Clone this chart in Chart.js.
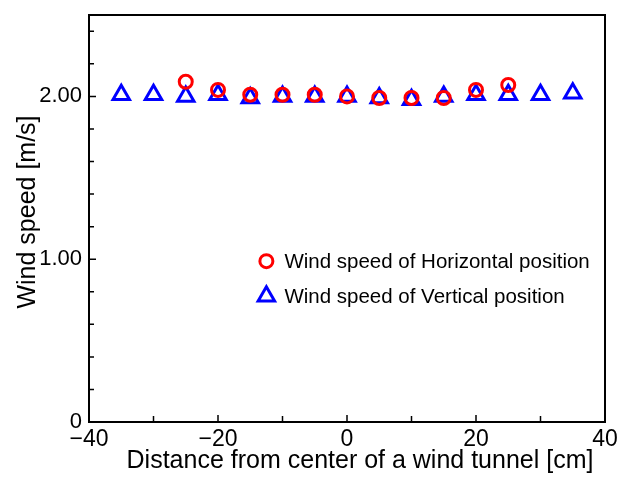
<!DOCTYPE html>
<html>
<head>
<meta charset="utf-8">
<script src="https://cdn.jsdelivr.net/npm/chart.js@4/dist/chart.umd.min.js"></script>
<style>
  html, body { margin: 0; padding: 0; background: #fff; }
  #wrap { width: 622px; height: 478px; }
</style>
</head>
<body>
<div id="wrap"><canvas id="c"></canvas></div>
<script>
// positions along the tunnel [cm]
const horizX = [-25, -20, -15, -10, -5, 0, 5, 10, 15, 20, 25];
const horizSpeed = [2.09, 2.04, 2.01, 2.01, 2.01, 2.00, 1.99, 1.99, 1.99, 2.04, 2.07];
const vertX = [-35, -30, -25, -20, -15, -10, -5, 0, 5, 10, 15, 20, 25, 30, 35];
const vertSpeed = [2.01, 2.01, 2.00, 2.01, 1.99, 2.00, 2.00, 2.00, 1.99, 1.98, 2.00, 2.01, 2.01, 2.01, 2.02];

const xLabelTicks = [-40, -20, 0, 20, 40];
const xSmallTicks = [-30, -10, 10, 30];
const yLabelTicks = [0, 1, 2];
const ySmallTicks = [0.2, 0.4, 0.6, 0.8, 1.2, 1.4, 1.6, 1.8, 2.2, 2.4];

const seriesNames = ["Wind speed of Horizontal position", "Wind speed of Vertical position"];
const xTitle = "Distance from center of a wind tunnel [cm]";
const yTitle = "Wind speed [m/s]";

const FONT = "'Liberation Sans', Arial, sans-serif";

function pts(xs, ys) {
    return xs.map((x, i) => ({ x: x, y: ys[i] }));
}

// box, inward ticks, axis titles and the legend inside the plot
const framePlugin = {
    id: "frame",
    afterDraw(chart) {
        const ctx = chart.ctx;
        const a = chart.chartArea;
        const xs = chart.scales.x, ys = chart.scales.y;
        ctx.save();
        ctx.strokeStyle = "#000";
        ctx.lineWidth = 2;
        ctx.strokeRect(a.left, a.top, a.right - a.left, a.bottom - a.top);

        ctx.lineWidth = 1.5;
        ctx.beginPath();
        xLabelTicks.forEach(v => {
            const p = xs.getPixelForValue(v);
            ctx.moveTo(p, a.bottom); ctx.lineTo(p, a.bottom - 7);
        });
        xSmallTicks.forEach(v => {
            const p = xs.getPixelForValue(v);
            ctx.moveTo(p, a.bottom); ctx.lineTo(p, a.bottom - 6);
        });
        yLabelTicks.forEach(v => {
            const p = ys.getPixelForValue(v);
            ctx.moveTo(a.left, p); ctx.lineTo(a.left + 7, p);
        });
        ySmallTicks.forEach(v => {
            const p = ys.getPixelForValue(v);
            ctx.moveTo(a.left, p); ctx.lineTo(a.left + 5, p);
        });
        ctx.stroke();

        // axis titles
        ctx.fillStyle = "#000";
        ctx.font = "25px " + FONT;
        ctx.textAlign = "center";
        ctx.textBaseline = "alphabetic";
        ctx.fillText(xTitle, 360, 468);
        ctx.save();
        ctx.translate(35, 212);
        ctx.rotate(-Math.PI / 2);
        ctx.fillText(yTitle, 0, 0);
        ctx.restore();

        // legend
        const lx = xs.getPixelForValue(-12.5);
        const rows = [ys.getPixelForValue(0.988), ys.getPixelForValue(0.773)];
        chart.data.datasets.forEach((ds, i) => {
            const y = rows[i];
            ctx.strokeStyle = ds.borderColor;
            ctx.lineWidth = ds.borderWidth;
            ctx.beginPath();
            const r = ds.pointRadius;
            if (ds.pointStyle === "circle") {
                ctx.arc(lx, y, r, 0, Math.PI * 2);
            } else {
                ctx.moveTo(lx, y - r);
                ctx.lineTo(lx + r * Math.cos(Math.PI / 6), y + r / 2);
                ctx.lineTo(lx - r * Math.cos(Math.PI / 6), y + r / 2);
                ctx.closePath();
            }
            ctx.stroke();
            ctx.fillStyle = "#000";
            ctx.font = "20.5px " + FONT;
            ctx.textBaseline = "middle";
            ctx.textAlign = "left";
            ctx.fillText(ds.label, lx + 18, y + 1);
        });
        ctx.restore();
    }
};

new Chart(document.getElementById("c"), {
    type: "scatter",
    data: {
        datasets: [
            {
                label: seriesNames[0],
                data: pts(horizX, horizSpeed),
                pointStyle: "circle",
                pointRadius: 6.5,
                borderWidth: 3,
                borderColor: "#ff0000",
                backgroundColor: "rgba(0,0,0,0)"
            },
            {
                label: seriesNames[1],
                data: pts(vertX, vertSpeed),
                pointStyle: "triangle",
                pointRadius: 9.5,
                borderWidth: 3,
                borderColor: "#0000ff",
                backgroundColor: "rgba(0,0,0,0)"
            }
        ]
    },
    options: {
        responsive: true,
        maintainAspectRatio: false,
        animation: false,
        layout: { padding: { top: 15, right: 17, left: 0, bottom: 0 } },
        plugins: {
            legend: { display: false },
            tooltip: { enabled: false }
        },
        scales: {
            x: {
                type: "linear",
                min: -40,
                max: 40,
                grid: { display: false, drawTicks: false },
                border: { display: false },
                afterBuildTicks: s => { s.ticks = xLabelTicks.map(v => ({ value: v })); },
                afterFit: s => { s.height = 56; s.paddingLeft = 0; s.paddingRight = 0; },
                ticks: {
                    color: "#000",
                    padding: 4,
                    maxRotation: 0,
                    font: { family: FONT, size: 23 },
                    callback: v => (v < 0 ? "\u2212" + Math.abs(v) : String(v))
                }
            },
            y: {
                min: 0,
                max: 2.5,
                grid: { display: false, drawTicks: false },
                border: { display: false },
                afterBuildTicks: s => { s.ticks = yLabelTicks.map(v => ({ value: v })); },
                afterFit: s => { s.width = 89; s.paddingTop = 0; s.paddingBottom = 0; },
                ticks: {
                    color: "#000",
                    padding: 7,
                    font: { family: FONT, size: 22 },
                    callback: v => (v === 0 ? "0" : v.toFixed(2))
                }
            }
        }
    },
    plugins: [framePlugin]
});
</script>
</body>
</html>
